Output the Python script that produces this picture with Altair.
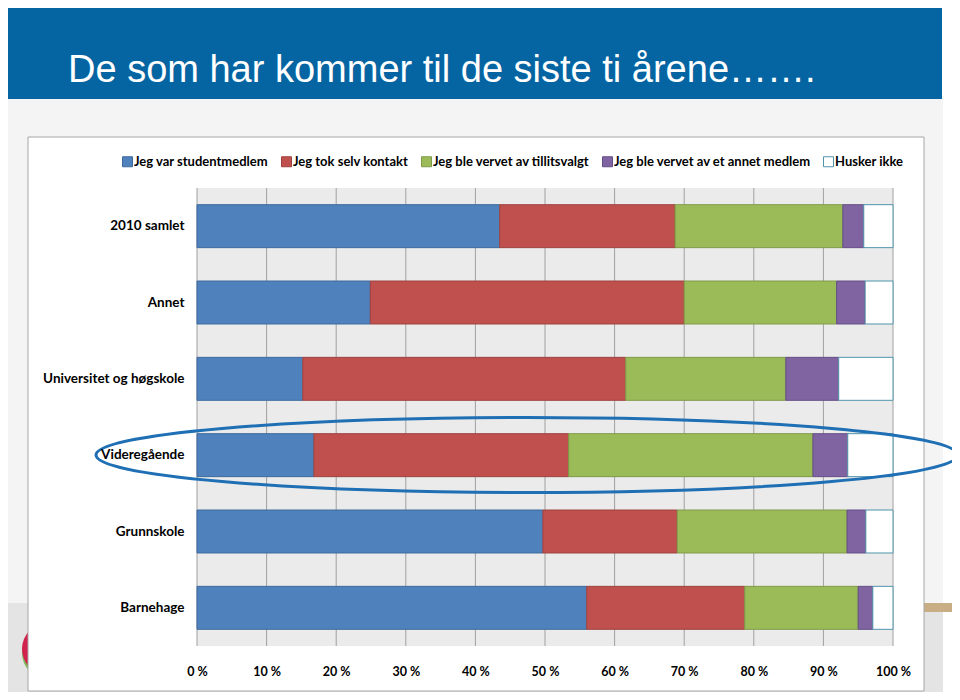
import altair as alt
import pandas as pd

# ---------------- data ----------------
categories = ["2010 samlet", "Annet", "Universitet og høgskole", "Videregående", "Grunnskole", "Barnehage"]
series = ["Jeg var studentmedlem", "Jeg tok selv kontakt", "Jeg ble vervet av tillitsvalgt",
          "Jeg ble vervet av et annet medlem", "Husker ikke"]
studentmedlem = [43.5, 24.9, 15.2, 16.8, 49.7, 56.0]
selv_kontakt = [25.2, 45.1, 46.4, 36.6, 19.3, 22.7]
tillitsvalgt = [24.1, 21.9, 23.0, 35.1, 24.4, 16.3]
annet_medlem = [3.0, 4.1, 7.6, 5.0, 2.7, 2.1]
husker_ikke = [4.2, 4.0, 7.8, 6.5, 3.9, 2.9]
x_ticks = [0, 10, 20, 30, 40, 50, 60, 70, 80, 90, 100]
title_text = "De som har kommer til de siste ti årene……."

fills = ["#4F81BD", "#C0504D", "#9BBB59", "#8064A2", "#FFFFFF"]
strokes = ["#3F6A9E", "#9E4340", "#7F9A48", "#654F86", "#4F93AC"]

rows = []
for s_i, (name, vals) in enumerate(zip(series, [studentmedlem, selv_kontakt, tillitsvalgt, annet_medlem, husker_ikke])):
    for c, v in zip(categories, vals):
        rows.append({"kategori": c, "serie": name, "verdi": v, "rekkefolge": s_i})
df = pd.DataFrame(rows)
ticks_df = pd.DataFrame({"tick": x_ticks})
one = pd.DataFrame({"d": [0]})

FONT = "Lato, Carlito, Calibri, sans-serif"
W, H = 696, 458

# ---------------- decoration ----------------
def rect(x, x2, y, y2, color, **kw):
    return alt.Chart(one).mark_rect(color=color, **kw).encode(
        x=alt.value(x), x2=alt.value(x2), y=alt.value(y), y2=alt.value(y2))

slide_bg = rect(-189, 746, -89, 415, "#F4F4F4")
bottom_band = rect(-189, 746, 415, 504, "#E4E4E4")
tan_bar = rect(727, 763, 415, 424, "#C9AE85")
banner = rect(-189, 745, -180, -89, "#0565A3")
title = alt.Chart(one).mark_text(text=title_text, font="Liberation Sans, Arial, sans-serif", fontSize=38,
                                 color="#FFFFFF", align="left", baseline="alphabetic").encode(
    x=alt.value(-129), y=alt.value(-106))
logo_green = alt.Chart(one).mark_point(shape="circle", filled=True, size=2704, color="#7DB857", opacity=1).encode(
    x=alt.value(-149), y=alt.value(465))
logo_red = alt.Chart(one).mark_point(shape="circle", filled=True, size=2704, color="#D2214C", opacity=1).encode(
    x=alt.value(-149), y=alt.value(461))
white_box = rect(-169, 727, -51, 503, "#FFFFFF", stroke="#A6A6A6", strokeWidth=1)
plot_bg = rect(0, W, 0, H, "#EBEBEB")

grid = alt.Chart(ticks_df).mark_rule(color="#A0A0A0", strokeWidth=1).encode(
    x=alt.X("tick:Q", scale=alt.Scale(domain=[0, 100], nice=False)),
    y=alt.value(0), y2=alt.value(H))

legend = alt.Legend(orient="none", legendX=-76, legendY=-33, direction="horizontal", columns=5,
                    columnPadding=10, symbolType="square", symbolSize=100, symbolStrokeWidth=1,
                    labelFont=FONT, labelFontSize=13, labelFontWeight="bold", labelColor="#000000",
                    labelOffset=0, labelLimit=0, padding=0, title=None)

bars = alt.Chart(df).mark_bar(strokeWidth=1).encode(
    x=alt.X("verdi:Q", stack="zero", scale=alt.Scale(domain=[0, 100], nice=False),
            axis=alt.Axis(title=None, values=x_ticks, labelExpr="datum.value + ' %'", grid=False,
                          ticks=False, domain=False, labelPadding=19, labelFont=FONT, labelFontSize=12.5,
                          labelFontWeight="bold", labelColor="#000000", labelFlush=False, zindex=1)),
    y=alt.Y("kategori:N", scale=alt.Scale(domain=categories, paddingInner=0.437, paddingOuter=0.2185),
            axis=alt.Axis(title=None, ticks=False, domain=False, labelPadding=13, labelFont=FONT,
                          labelFontSize=13.5, labelFontWeight="bold", labelColor="#000000",
                          labelLimit=0, zindex=1)),
    fill=alt.Fill("serie:N", scale=alt.Scale(domain=series, range=fills), legend=legend),
    stroke=alt.Stroke("serie:N", scale=alt.Scale(domain=series, range=strokes), legend=legend),
    order=alt.Order("rekkefolge:Q"),
)

ry = 0.0870
k = 0.5523
ellipse_path = (f"M -1 0 C -1 {-ry*k:.4f} {-k} {-ry} 0 {-ry} C {k} {-ry} 1 {-ry*k:.4f} 1 0 "
                f"C 1 {ry*k:.4f} {k} {ry} 0 {ry} C {-k} {ry} -1 {ry*k:.4f} -1 0 Z")
ellipse = alt.Chart(one).mark_point(shape=ellipse_path, filled=False, size=862 ** 2, strokeWidth=3,
                                    color="#1F6FB4", opacity=1).encode(x=alt.value(330), y=alt.value(267))

chart = alt.layer(slide_bg, bottom_band, tan_bar, banner, title, logo_green, logo_red, white_box,
                  plot_bg, grid, bars, ellipse).properties(
    width=W, height=H,
    padding={"left": 189, "top": 180, "right": 59, "bottom": 46},
    autosize=alt.AutoSizeParams(type="none"),
    background="#FFFFFF",
).configure_view(stroke="transparent")

chart.save("out.html", embed_options={"renderer": "svg", "actions": False})
